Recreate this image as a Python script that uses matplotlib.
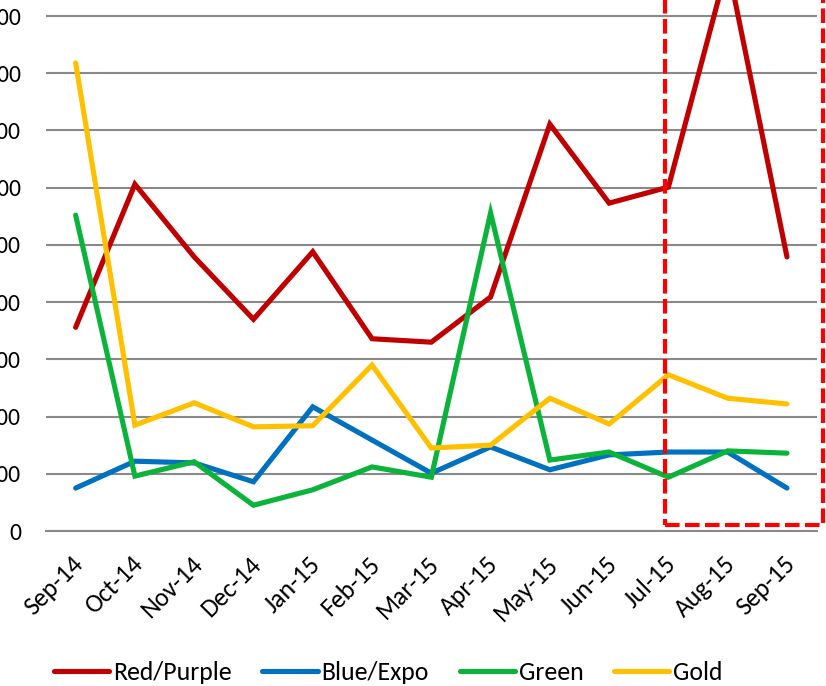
import matplotlib
matplotlib.use("Agg")
import matplotlib.pyplot as plt
from matplotlib import font_manager
from matplotlib.patches import Rectangle
from matplotlib.transforms import ScaledTranslation

months = ["Sep-14", "Oct-14", "Nov-14", "Dec-14", "Jan-15", "Feb-15", "Mar-15",
          "Apr-15", "May-15", "Jun-15", "Jul-15", "Aug-15", "Sep-15"]
red_purple = [356, 606, 479, 370, 488, 336, 330, 409, 711, 573, 601, 990, 479]
blue_expo = [75, 122, 119, 86, 217, 159, 101, 147, 107, 133, 138, 138, 75]
green = [552, 96, 121, 45, 72, 112, 94, 556, 124, 138, 94, 140, 136]
gold = [818, 185, 224, 182, 184, 290, 145, 150, 232, 187, 273, 232, 222]
series_names = ["Red/Purple", "Blue/Expo", "Green", "Gold"]
y_ticks = [0, 100, 200, 300, 400, 500, 600, 700, 800, 900, 1000]
highlight_from = "Jul-15"

colors = ["#C00000", "#0070C0", "#0BB33A", "#FFC000"]

avail = {f.name for f in font_manager.fontManager.ttflist}
fam = [f for f in ["Carlito", "Lato", "DejaVu Sans"] if f in avail]
plt.rcParams["font.family"] = fam

fig = plt.figure(figsize=(8.26, 6.86), dpi=100)
ax = fig.add_axes([46 / 826, 155 / 686, (816.6 - 46) / 826, (531 + 41.2) / 686])

x = list(range(len(months)))
for vals, c, name in zip([red_purple, blue_expo, green, gold], colors, series_names):
    ax.plot(x, vals, color=c, lw=3.7, label=name, solid_capstyle="round",
            solid_joinstyle="miter")

ax.set_xlim(-0.5, len(months) - 0.5)
ax.set_ylim(0, 1000)
ax.set_yticks(y_ticks)
ax.set_yticklabels([str(v) for v in y_ticks])
ax.yaxis.grid(True, color="#898989", lw=1.5)
ax.set_axisbelow(True)
for s in ["top", "right", "left"]:
    ax.spines[s].set_visible(False)
ax.spines["bottom"].set_color("#898989")
ax.spines["bottom"].set_linewidth(1.5)
ax.tick_params(axis="y", length=0, pad=18, labelsize=17)
ax.tick_params(axis="x", length=0, pad=21, labelsize=18.5)
ax.set_xticks(x)
ax.set_xticklabels(months, rotation=45, ha="right", va="center",
                   rotation_mode="anchor")
shift = ScaledTranslation(4 / 100, 0, fig.dpi_scale_trans)
for lbl in ax.get_xticklabels():
    lbl.set_transform(lbl.get_transform() + shift)

# highlighted period (dashed red box)
hi = months.index(highlight_from)
rect = Rectangle((hi - 0.05, 10.5), len(months) - 1 - hi + 0.66, 1200,
                 transform=ax.transData, fill=False, edgecolor="#FF0000",
                 lw=3.0, linestyle=(0, (3.5, 1.3)), clip_on=False, zorder=5)
ax.add_patch(rect)

fig.legend(loc="center", bbox_to_anchor=(0.47, 14 / 686), ncol=4, frameon=False,
           fontsize=18.5, handlelength=2.15, handletextpad=0.15, columnspacing=1.2,
           borderaxespad=0)

fig.savefig("out.png", dpi=100)
